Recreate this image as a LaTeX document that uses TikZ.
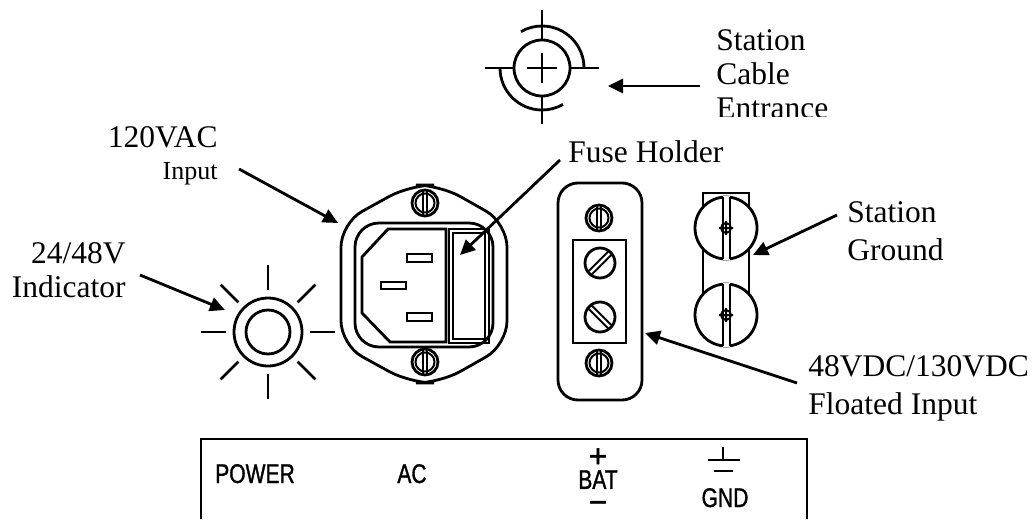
\documentclass[tikz,border=0pt]{standalone}
\usepackage{fontspec}
\setmainfont{Liberation Serif}
\newfontfamily\panelfont[FakeStretch=0.78,FakeBold=1.2]{Liberation Sans}
\newfontfamily\signfont[FakeBold=1.2]{Liberation Sans}
\usetikzlibrary{arrows.meta,positioning}

\tikzset{
  pics/slotscrew/.style={code={% screw with upright slot
    \draw[part] (0,0) circle (13);
    \draw[partfine] (0,0) circle (9.5);
    \draw[partfine] (-1.8,-12.6) -- (-1.8,12.6) (1.8,-12.6) -- (1.8,12.6);
  }},
  pics/diagscrew/.style={code={% terminal screw, slanted slot
    \draw[part] (0,0) circle (15);
    \draw[partfine] (-8.2,-11.4) -- (11.4,8.2) (-11.4,-8.2) -- (8.2,11.4);
  }},
  pics/gndscrew/.style={code={% split ground lug
    \draw[part,fill=white] (0,0) circle (31);
    \fill[white] (-3.5,-32) rectangle (3.5,32);
    \draw[partfine] (-3.5,-30.8) -- (-3.5,30.8) (3.5,-30.8) -- (3.5,30.8);
    \draw[partfine] (0,0) circle (5) (-7,0) -- (7,0) (0,-7) -- (0,7);
  }},
}

\begin{document}
\begin{tikzpicture}[% one unit is one pixel of the panel view, y runs down
    x=0.5pt, y=-0.5pt,
    every node/.style={inner sep=0pt},
    lbl/.style={font=\fontsize{15.75}{17}\selectfont, align=left},
    sml/.style={font=\fontsize{13}{15}\selectfont},
    pnl/.style={font=\panelfont\fontsize{13.5}{11}\selectfont},
    part/.style={draw, line width=1.4pt},
    partfine/.style={draw, line width=1pt},
    ptr/.style={line width=1.4pt, -{Triangle[length=7.5pt,width=7pt]}}
  ]
  \path[use as bounding box, fill=white] (0,0) rectangle (1036,519);

  % station cable entrance
  \draw[part] (542,68) circle (28);
  \draw[part] (527,68) -- (557,68) (542,53) -- (542,83);
  \draw[part] (485,68) -- (514,68) (570,68) -- (599,68);
  \draw[part] (542,10) -- (542,40) (542,96) -- (542,124);
  \draw[part] (584,68) arc[start angle=0, end angle=-120, radius=42];
  \draw[part] (500,68) arc[start angle=180, end angle=60, radius=42];

  % 24/48V indicator
  \draw[part] (268,332) circle (34) (268,332) circle (22);
  \foreach \a in {0,45,...,315}
    \draw[part] (268,332) ++(\a:42) -- ++(\a:25);

  % AC inlet with fuse holder
  \draw[part, rounded corners=12] (410,185) -- (440,185) -- (507,223) -- (507,345)
    -- (440,383) -- (410,383) -- (341,345) -- (341,223) -- cycle;
  \draw[part, rounded corners=12] (355,223) rectangle (493,347);
  \draw[part] (388,229) -- (446,229) -- (446,342) -- (390,342) -- (362,313) -- (362,257) -- cycle;
  \draw[partfine] (407,254) rectangle (432,262) (381,282) rectangle (406,289)
    (407,313) rectangle (432,321);
  \draw[part] (449,229) rectangle (489,343);
  \draw[partfine] (453,233) rectangle (485,339);
  \pic at (425,203) {slotscrew};
  \pic at (425,362) {slotscrew};

  % floated input terminal block
  \draw[part, rounded corners=10] (558,183) rectangle (642,400);
  \draw[part] (573,240) rectangle (626,343);
  \pic at (599,218) {slotscrew};
  \pic at (599,363) {slotscrew};
  \pic[yscale=-1] at (600,263) {diagscrew};
  \pic at (600,317) {diagscrew};

  % station ground lugs
  \draw[part] (703,193) rectangle (749,318);
  \pic at (726,228) {gndscrew};
  \pic at (726,315) {gndscrew};

  % labels
  \begin{scope}
    \clip (700,0) rectangle (900,116);
    \node[lbl, anchor=north west] (C1) at (716,29.7) {Station\\Cable\\Entrance};
  \end{scope}
  \node[lbl, anchor=base east] (V1) at (218,147) {120VAC};
  \node[sml, anchor=base east] (V2) at (218,179) {Input};
  \node[lbl, align=right, anchor=north east] (L1) at (126,242.5) {24/48V\\Indicator};
  \node[lbl, anchor=base west] (F1) at (568,162) {Fuse Holder};
  \node[lbl, anchor=north west] (G1) at (847,201.7) {Station\\[2pt]Ground};
  \node[lbl, anchor=north west] (D1) at (808,355.3) {48VDC/130VDC\\[2pt]Floated Input};

  % pointers
  \coordinate (p1) at (700,86);  \coordinate (t1) at (608,86);
  \coordinate (p2) at (239,169); \coordinate (t2) at (338,223);
  \coordinate (p3) at (140,275); \coordinate (t3) at (225,310);
  \coordinate (p4) at (560,160); \coordinate (t4) at (460,255);
  \coordinate (p5) at (837,215); \coordinate (t5) at (753,255);
  \coordinate (p6) at (797,383); \coordinate (t6) at (645,333);
  \foreach \i in {1,...,6}
    \draw[ptr] (p\i) -- (t\i);

  % front panel legend
  \draw[part] (201,519) -- (201,439) -- (807,439) -- (807,519);
  \node[pnl, anchor=base] (P1) at (255,483) {POWER};
  \node[pnl, anchor=base] (P2) at (412,483) {AC};
  \node[pnl, align=center, anchor=north] (P3) at (598,448)
    {{\signfont\fontsize{16}{11}\selectfont +}\\BAT\\[1pt]{\signfont\fontsize{16}{11}\selectfont −}};
  \draw[line width=1.2pt] (723,447) -- (723,460) (708,460) -- (740,460) (714,471) -- (733,471);
  \node[pnl, anchor=base] (P4) at (725,507) {GND};
\end{tikzpicture}
\end{document}
